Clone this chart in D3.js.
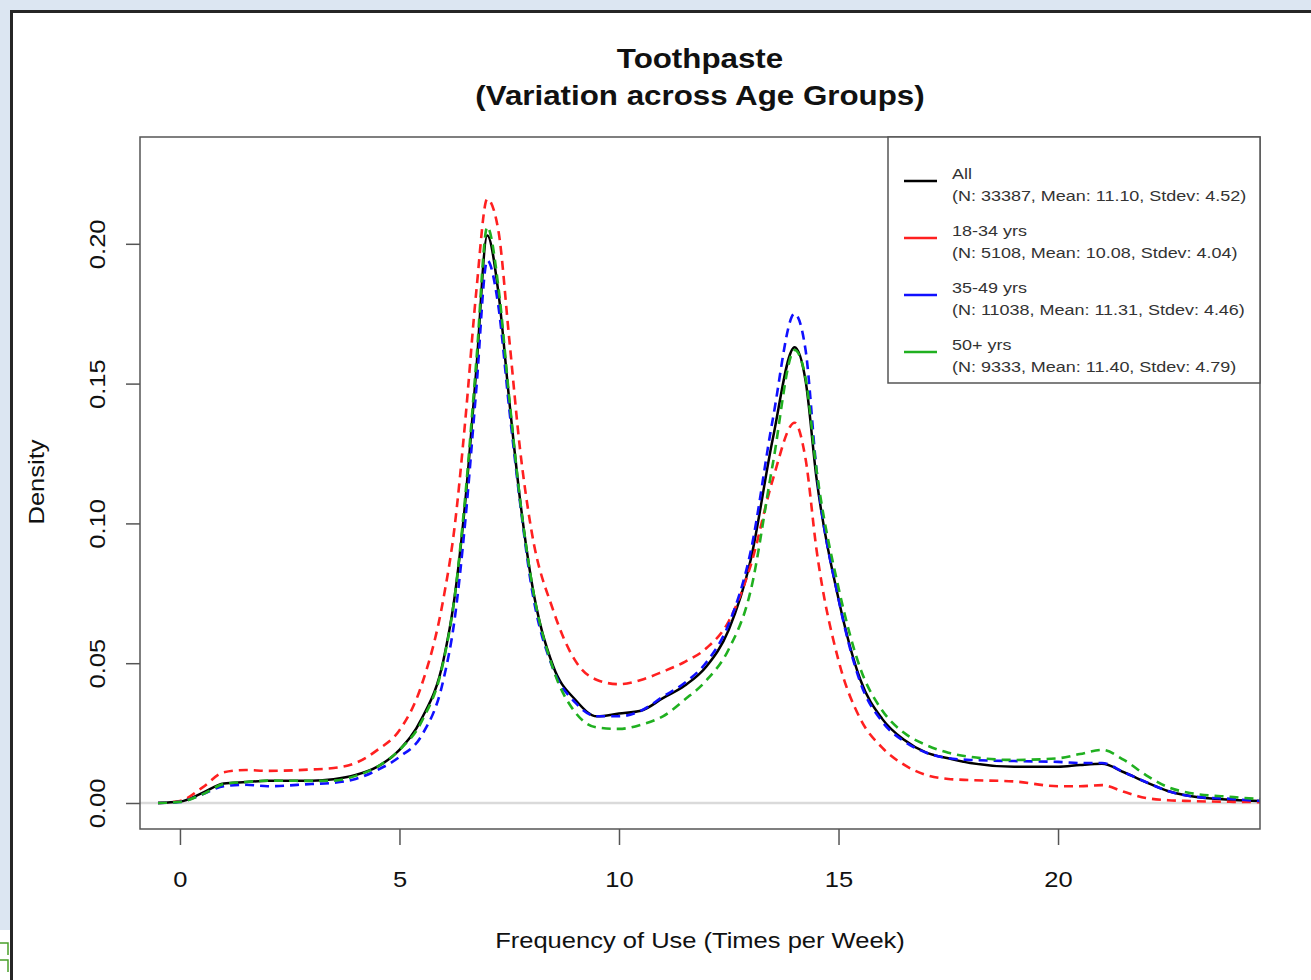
<!DOCTYPE html>
<html>
<head>
<meta charset="utf-8">
<script src="https://cdn.jsdelivr.net/npm/d3@7"></script>
<style>
  body { margin: 0; background: #dce6f2; }
  text { font-family: "Liberation Sans", Arial, sans-serif; }
</style>
</head>
<body>
<svg id="chart" width="1311" height="980"></svg>
<script>
// frequency grid (times per week) shared by all density curves
const freq = [-0.5, 0, 0.5, 1, 1.5, 2, 3, 3.5, 4, 4.5, 5, 5.5, 6, 6.25, 6.5, 6.75, 7, 7.25, 7.5, 7.75,
    8, 8.5, 9, 9.5, 10, 10.5, 11, 11.5, 12, 12.5, 13, 13.5, 14, 14.25, 14.5, 15, 15.5, 16, 16.5, 17,
    17.5, 18, 19, 20, 20.5, 21, 21.5, 22, 22.5, 23, 24, 24.6];

const densAll = [0, 0.0005, 0.0035, 0.007, 0.0075, 0.008, 0.008, 0.0085, 0.010, 0.013, 0.019, 0.030, 0.051, 0.073, 0.108, 0.155, 0.203, 0.183, 0.144, 0.108,
    0.080, 0.049, 0.037, 0.031, 0.032, 0.033, 0.0375, 0.042, 0.049, 0.062, 0.087, 0.130, 0.163, 0.151, 0.116, 0.073, 0.044, 0.030, 0.0225, 0.018,
    0.016, 0.0143, 0.013, 0.013, 0.0136, 0.014, 0.011, 0.0075, 0.0043, 0.0025, 0.0011, 0.0007];
const dens1834 = [0, 0.0007, 0.0054, 0.011, 0.0118, 0.0115, 0.012, 0.0125, 0.0143, 0.019, 0.026, 0.042, 0.073, 0.098, 0.137, 0.183, 0.216, 0.205, 0.166, 0.126,
    0.098, 0.069, 0.051, 0.044, 0.0425, 0.044, 0.047, 0.0505, 0.0555, 0.065, 0.085, 0.1155, 0.136, 0.123, 0.0905, 0.051, 0.030, 0.0197, 0.0136, 0.010,
    0.0086, 0.0082, 0.0077, 0.006, 0.006, 0.0064, 0.004, 0.0018, 0.001, 0.0007, 0.0004, 0.0003];
const dens3549 = [0, 0.0004, 0.003, 0.006, 0.0065, 0.006, 0.0068, 0.0072, 0.0086, 0.0118, 0.0165, 0.024, 0.044, 0.065, 0.101, 0.148, 0.194, 0.178, 0.141, 0.107,
    0.078, 0.048, 0.036, 0.031, 0.031, 0.033, 0.038, 0.043, 0.0505, 0.064, 0.090, 0.137, 0.175, 0.162, 0.119, 0.073, 0.043, 0.029, 0.022, 0.018,
    0.016, 0.0154, 0.015, 0.0147, 0.0143, 0.0143, 0.011, 0.0075, 0.0043, 0.0025, 0.0014, 0.0007];
const dens50 = [0, 0.0004, 0.003, 0.0068, 0.0075, 0.008, 0.0079, 0.008, 0.0097, 0.013, 0.019, 0.029, 0.0505, 0.073, 0.110, 0.158, 0.206, 0.185, 0.145, 0.108,
    0.080, 0.048, 0.0325, 0.027, 0.0265, 0.028, 0.031, 0.037, 0.044, 0.055, 0.076, 0.121, 0.162, 0.152, 0.119, 0.077, 0.048, 0.033, 0.025, 0.0207,
    0.018, 0.0165, 0.0154, 0.016, 0.0175, 0.019, 0.0154, 0.010, 0.0057, 0.0036, 0.0021, 0.0014];

const groupNames = ["All", "18-34 yrs", "35-49 yrs", "50+ yrs"];
const groupStats = [
    "(N: 33387, Mean: 11.10, Stdev: 4.52)",
    "(N: 5108, Mean: 10.08, Stdev: 4.04)",
    "(N: 11038, Mean: 11.31, Stdev: 4.46)",
    "(N: 9333, Mean: 11.40, Stdev: 4.79)"
];
const groupColors = ["#000000", "#ff2020", "#1010ff", "#20b020"];
const xTicks = [0, 5, 10, 15, 20];
const yTicks = [0, 0.05, 0.10, 0.15, 0.20];

// the source image has its lettering stretched sideways a little
const stretch = 1.16;

const svg = d3.select("#chart");

// window frame
svg.append("rect").attr("x", 10).attr("y", 10).attr("width", 1301).attr("height", 970).attr("fill", "#fff");
svg.append("path").attr("d", "M11.5,980V11.5H1311").attr("fill", "none").attr("stroke", "#262626").attr("stroke-width", 3);
svg.append("rect").attr("x", 0).attr("y", 930).attr("width", 10).attr("height", 50).attr("fill", "#fff");
svg.append("path").attr("d", "M0,943H8V955M0,960H8V972").attr("fill", "none").attr("stroke", "#4aa02a").attr("stroke-width", 1.5);

const plot = { left: 140, right: 1260, top: 137, bottom: 829 };

const x = d3.scaleLinear().domain([-0.91, 24.6]).range([plot.left, plot.right]);
const y = d3.scaleLinear().domain([-0.0093, 0.2382]).range([plot.bottom, plot.top]);

// zero reference line
svg.append("line")
    .attr("x1", plot.left).attr("x2", plot.right)
    .attr("y1", y(0)).attr("y2", y(0))
    .attr("stroke", "#dadada").attr("stroke-width", 2.5);

const line = d3.line()
    .x((d, i) => x(freq[i]))
    .y(d => y(d))
    .curve(d3.curveMonotoneX);

const series = [densAll, dens1834, dens3549, dens50];
series.forEach((s, i) => {
    svg.append("path")
        .datum(s)
        .attr("fill", "none")
        .attr("stroke", groupColors[i])
        .attr("stroke-width", i === 0 ? 2.5 : 2.6)
        .attr("stroke-dasharray", i === 0 ? null : "9,6")
        .attr("d", line);
});

// plot box
svg.append("rect")
    .attr("x", plot.left).attr("y", plot.top)
    .attr("width", plot.right - plot.left).attr("height", plot.bottom - plot.top)
    .attr("fill", "none").attr("stroke", "#555").attr("stroke-width", 1.5);

// x axis
const xAxis = svg.append("g")
    .attr("transform", `translate(0,${plot.bottom})`)
    .call(d3.axisBottom(x).tickValues(xTicks).tickSize(16).tickPadding(26).tickFormat(d3.format("d")));
xAxis.select(".domain").remove();
xAxis.selectAll(".tick line").attr("stroke", "#555").attr("stroke-width", 1.5);
xAxis.selectAll(".tick text").attr("font-size", 22).attr("fill", "#111")
    .attr("transform", `scale(${stretch},1)`)
    .style("font-family", "'Liberation Sans', Arial, sans-serif");

// y axis
const yAxis = svg.append("g")
    .attr("transform", `translate(${plot.left},0)`)
    .call(d3.axisLeft(y).tickValues(yTicks).tickSize(14).tickFormat(d3.format(".2f")));
yAxis.select(".domain").remove();
yAxis.selectAll(".tick line").attr("stroke", "#555").attr("stroke-width", 1.5);
yAxis.selectAll(".tick text")
    .attr("font-size", 22).attr("fill", "#111")
    .attr("x", null).attr("dy", null)
    .attr("text-anchor", "middle")
    .attr("transform", `translate(-43,0) rotate(-90) scale(${stretch},1)`)
    .attr("dominant-baseline", "central")
    .style("font-family", "'Liberation Sans', Arial, sans-serif");

function label(tx, ty, txt, size, opts = {}) {
    const t = svg.append("text")
        .attr("transform", `translate(${tx},${ty})` + (opts.rotate ? " rotate(-90)" : "") + ` scale(${stretch},1)`)
        .attr("text-anchor", opts.anchor || "middle")
        .attr("font-size", size)
        .attr("fill", opts.fill || "#111")
        .text(txt);
    if (opts.bold) t.attr("font-weight", "bold");
    return t;
}

// titles
label(700, 68, "Toothpaste", 27, { bold: true });
label(700, 105, "(Variation across Age Groups)", 27, { bold: true });
label(700, 948, "Frequency of Use (Times per Week)", 22);
label(44, 482, "Density", 22, { rotate: true });

// legend
svg.append("rect")
    .attr("x", 888).attr("y", plot.top).attr("width", plot.right - 888).attr("height", 246)
    .attr("fill", "#fff").attr("stroke", "#555").attr("stroke-width", 1.5);
groupNames.forEach((name, i) => {
    const yy = 181 + i * 57;
    svg.append("line").attr("x1", 904).attr("x2", 937).attr("y1", yy).attr("y2", yy)
        .attr("stroke", groupColors[i]).attr("stroke-width", 2.6);
    label(952, yy - 2, name, 15.5, { anchor: "start", fill: "#333" });
    label(952, yy + 20, groupStats[i], 15.5, { anchor: "start", fill: "#333" });
});
</script>
</body>
</html>
